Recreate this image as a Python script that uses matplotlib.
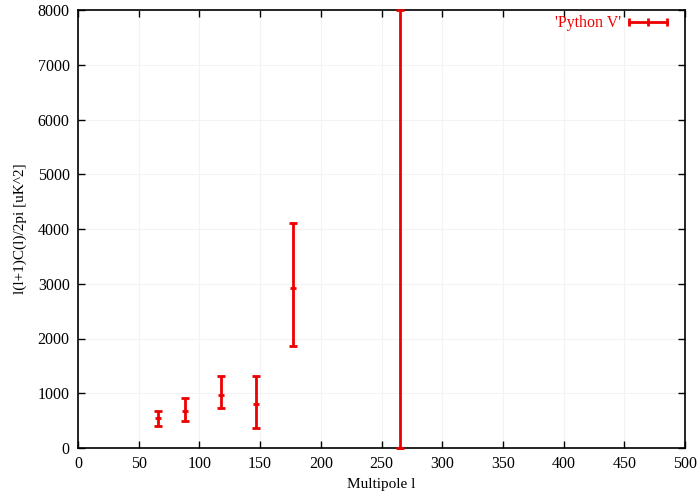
import numpy as np
import matplotlib.pyplot as plt
from matplotlib.lines import Line2D

# multipole bins and band powers
ell = [66, 88, 118, 147, 177, 265]
power = [540, 680, 970, 800, 2930, 0]
err_lo = [130, 190, 235, 430, 1065, 0]
err_hi = [140, 225, 345, 515, 1175, 8000]

plt.rcParams['font.family'] = ['Liberation Serif', 'DejaVu Serif']
plt.rcParams['font.size'] = 11

fig = plt.figure(figsize=(7, 4.93), dpi=100)
ax = fig.add_axes([78/700, 45/493, 607/700, 438/493])

red = '#ee0000'
ax.errorbar(ell, power, yerr=[err_lo, err_hi], fmt='none', ecolor=red,
            elinewidth=2, capsize=2.8, capthick=2, clip_on=False, zorder=3)
ax.plot(ell, power, ls='none', marker='_', ms=5, mew=2, color=red,
        clip_on=False, zorder=3)

ax.set_xlim(0, 500)
ax.set_ylim(0, 8000)
ax.set_xticks(np.arange(0, 501, 50))
ax.set_yticks(np.arange(0, 8001, 1000))
ax.tick_params(direction='in', top=True, right=True, length=5, width=1,
               pad=6, labelsize=11.5)
ax.grid(True, color='#f3f3f3', lw=0.8)
ax.set_axisbelow(True)
for s in ax.spines.values():
    s.set_linewidth(1.2)

ax.set_xlabel('Multipole l', labelpad=4)
ax.set_ylabel('l(l+1)C(l)/2pi [uK^2]', labelpad=8)

h = Line2D([], [], color=red, lw=2, marker='|', ms=6, mew=2)
leg = ax.legend([h], ["'Python V'"], loc='upper right', frameon=False,
                markerfirst=False, numpoints=3, handlelength=3.0,
                handletextpad=0.2, borderaxespad=0.2, fontsize=11.5,
                bbox_to_anchor=(0.994, 1.01))
for t in leg.get_texts():
    t.set_color(red)

fig.savefig('out.png', dpi=100)
